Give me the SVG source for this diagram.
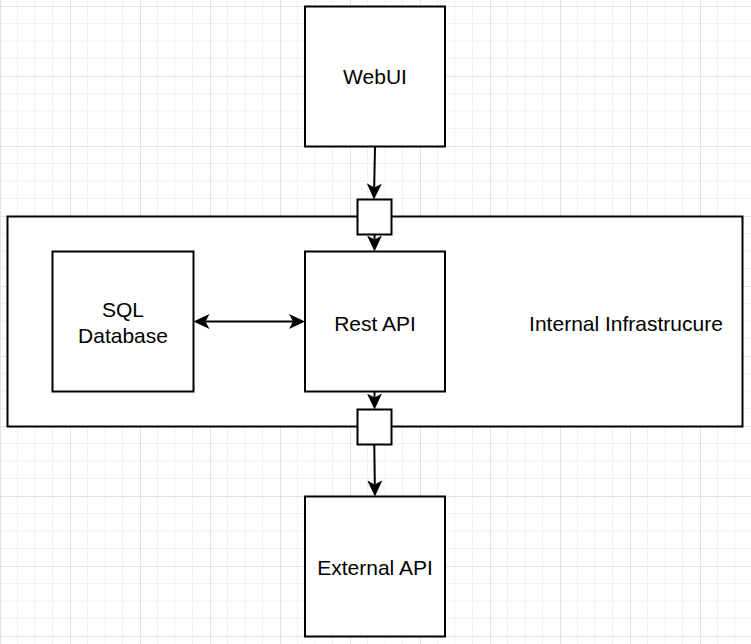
<svg xmlns="http://www.w3.org/2000/svg" width="751" height="644" viewBox="0 0 751 644">
<style>
.box{fill:#ffffff;stroke:#000000;stroke-width:2}
.edge{fill:none;stroke:#000000;stroke-width:2}
.lbl{font-family:"Liberation Sans",Arial,Helvetica,sans-serif;font-size:21px;fill:#000000;text-anchor:middle}
.minor{stroke:#f0f0f0;stroke-width:1}
.major{stroke:#e2e2e2;stroke-width:1}
</style>
<defs>
<pattern id="grid" x="0" y="6" width="70" height="70" patternUnits="userSpaceOnUse">
<path class="minor" d="M17.5,0V70M35,0V70M52.5,0V70M0,17.5H70M0,35H70M0,52.5H70"/>
<path class="major" d="M0.5,0V70M0,0.5H70"/>
</pattern>
<marker id="arr" viewBox="0 0 16 15" refX="4" refY="7.5" markerWidth="16" markerHeight="15" markerUnits="userSpaceOnUse" orient="auto-start-reverse">
<path d="M0,0 L16,7.5 L0,15 L4,7.5 Z" fill="#000000"/>
</marker>
</defs>
<rect width="751" height="644" fill="#ffffff"/>
<rect width="751" height="644" fill="url(#grid)"/>
<g id="internal">
<rect class="box" x="7.5" y="216.5" width="735" height="210"/>
<text class="lbl" x="626" y="331">Internal Infrastrucure</text>
</g>
<g id="webui">
<rect class="box" x="305" y="6.5" width="140" height="140"/>
<text class="lbl" x="375" y="84">WebUI</text>
</g>
<g id="sql">
<rect class="box" x="52.5" y="251.5" width="141" height="140"/>
<text class="lbl" x="123" y="317">SQL</text>
<text class="lbl" x="123" y="343">Database</text>
</g>
<g id="restapi">
<rect class="box" x="305" y="251.5" width="140" height="140"/>
<text class="lbl" x="375" y="331">Rest API</text>
</g>
<g id="externalapi">
<rect class="box" x="305" y="496.5" width="140" height="140"/>
<text class="lbl" x="375" y="575">External API</text>
</g>
<g id="port-top">
<rect class="box" x="357.5" y="199.5" width="34" height="35"/>
</g>
<g id="port-bottom">
<rect class="box" x="357.5" y="409.5" width="34" height="35"/>
</g>
<g id="connectors">
<path class="edge" d="M375,146.5 L374.2,187.5" marker-end="url(#arr)"/>
<path class="edge" d="M374.5,234.5 L374.5,239.5" marker-end="url(#arr)"/>
<path class="edge" d="M374.5,391.5 L374.5,397.5" marker-end="url(#arr)"/>
<path class="edge" d="M374.3,444.5 L374.8,484.5" marker-end="url(#arr)"/>
<path class="edge" d="M205.5,321.5 L293,321.5" marker-start="url(#arr)" marker-end="url(#arr)"/>
</g>
</svg>
